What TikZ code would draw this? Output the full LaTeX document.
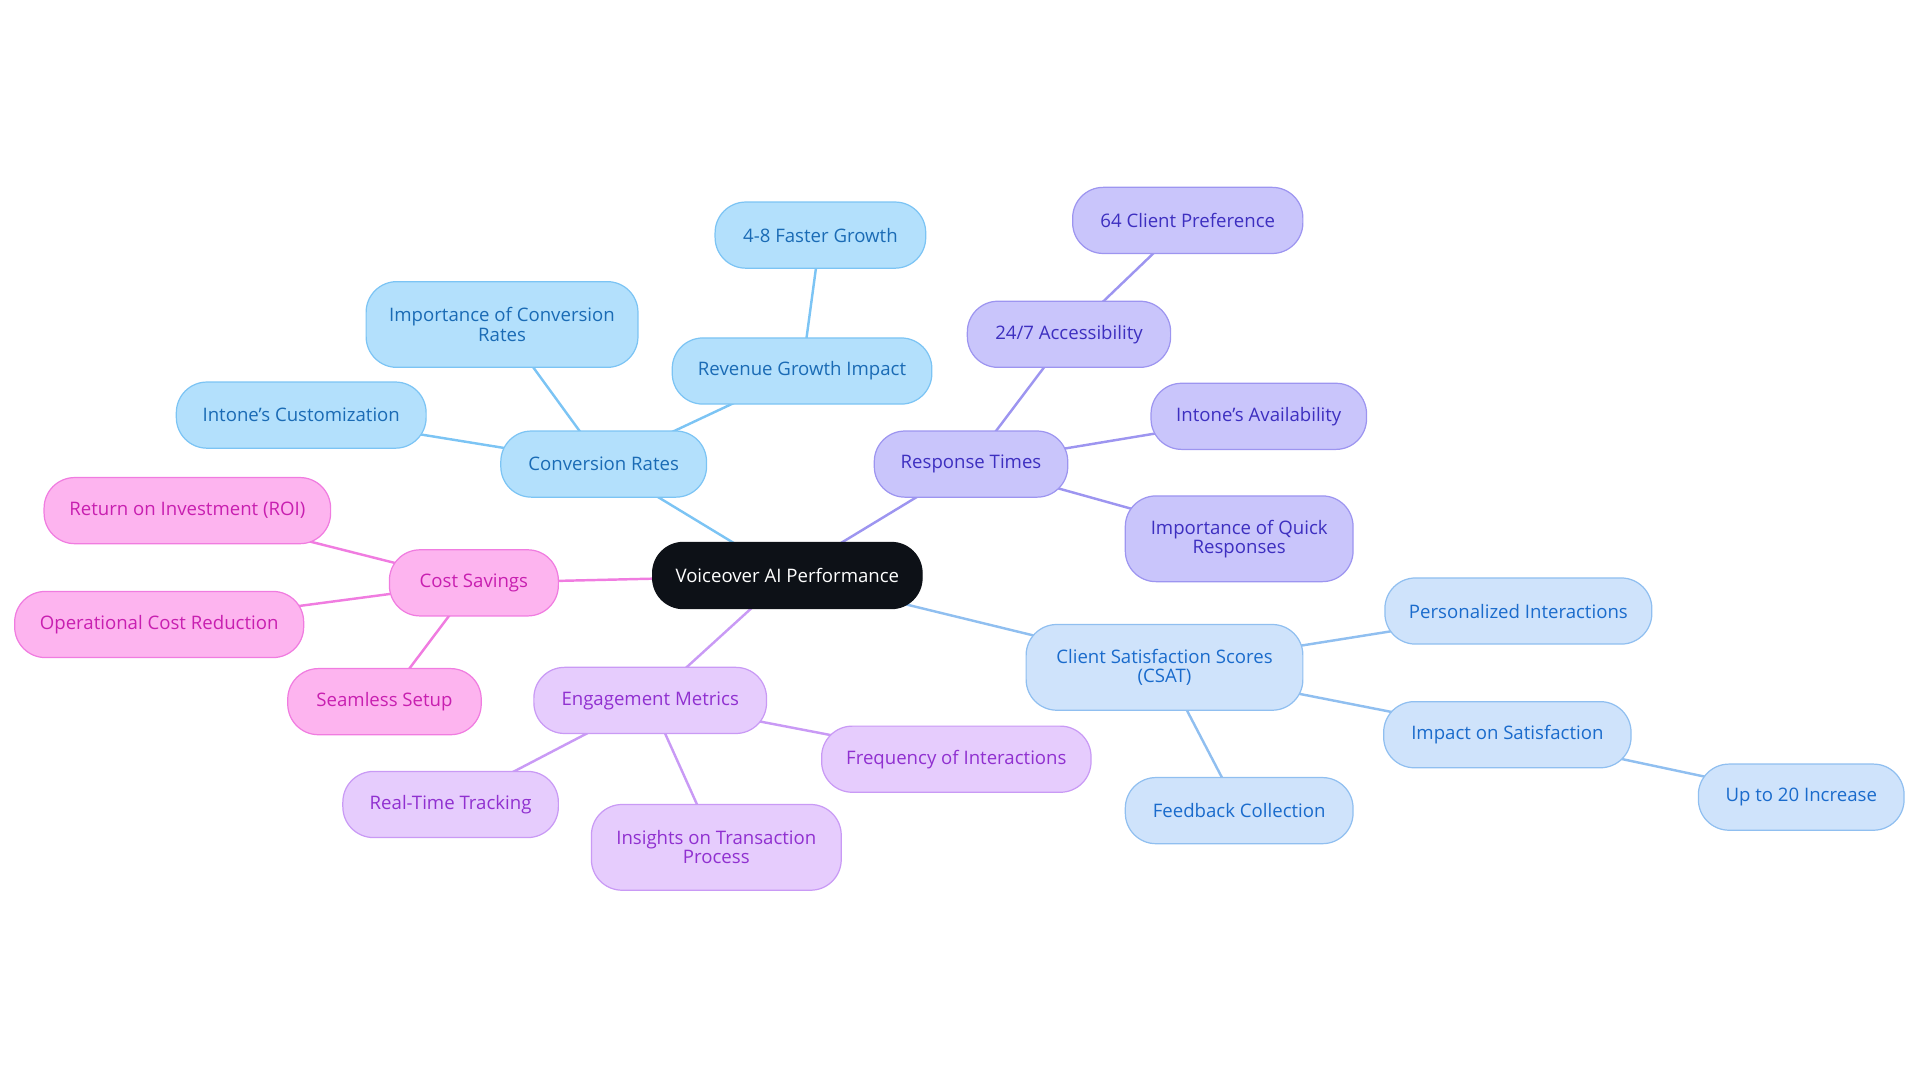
\documentclass[tikz,border=0pt]{standalone}
\usepackage{fontspec}
\setmainfont{Open Sans}
\usetikzlibrary{backgrounds}
\definecolor{bF}{HTML}{B3E0FC}\definecolor{bD}{HTML}{7CC4F4}\definecolor{bT}{HTML}{1A6BB5}
\definecolor{pF}{HTML}{C9C5FB}\definecolor{pD}{HTML}{9D95F0}\definecolor{pT}{HTML}{3D2FC0}
\definecolor{cF}{HTML}{CFE3FB}\definecolor{cD}{HTML}{90BFF0}\definecolor{cT}{HTML}{1A6BCC}
\definecolor{mF}{HTML}{FDB4EF}\definecolor{mD}{HTML}{F07CE0}\definecolor{mT}{HTML}{C81FB0}
\definecolor{eF}{HTML}{E6CCFD}\definecolor{eD}{HTML}{C99AF5}\definecolor{eT}{HTML}{9030D0}
\definecolor{rootF}{HTML}{0D1117}
\tikzset{
 box/.style={rounded corners=12.5pt,minimum height=27pt,align=center,font=\fontsize{7.6}{7.8}\selectfont,inner sep=2pt,line width=0.5pt},
 tall/.style={minimum height=35pt},
 gb/.style={box,fill=bF,draw=bD,text=bT},
 gp/.style={box,fill=pF,draw=pD,text=pT},
 gc/.style={box,fill=cF,draw=cD,text=cT},
 gm/.style={box,fill=mF,draw=mD,text=mT},
 ge/.style={box,fill=eF,draw=eD,text=eT},
 eb/.style={draw=bD,line width=1pt},
 ep/.style={draw=pD,line width=1pt},
 ec/.style={draw=cD,line width=1pt},
 em/.style={draw=mD,line width=1pt},
 ee/.style={draw=eD,line width=1pt},
}
\begin{document}
\begin{tikzpicture}[x=0.5pt,y=-0.5pt]
\useasboundingbox (0,0) rectangle (1568,884);
\node[box,fill=rootF,draw=rootF,text=white,minimum width=110pt] (root) at (643,470) {Voiceover AI Performance};
\node[gb,minimum width=84pt] (conv) at (493,379) {Conversion Rates};
\node[gb,tall,minimum width=111pt] (impc) at (410,265) {Importance of Conversion\\Rates};
\node[gb,minimum width=106pt] (rev) at (655,303) {Revenue Growth Impact};
\node[gb,minimum width=86pt] (fast) at (670,192) {4-8 Faster Growth};
\node[gb,minimum width=102pt] (cust) at (246,339) {Intone's Customization};
\node[gp,minimum width=79pt] (resp) at (793,379) {Response Times};
\node[gp,minimum width=83pt] (acc) at (873,273) {24/7 Accessibility};
\node[gp,minimum width=94pt] (pref) at (970,180) {64 Client Preference};
\node[gp,minimum width=88pt] (avail) at (1028,340) {Intone's Availability};
\node[gp,tall,minimum width=93pt] (quick) at (1012,440) {Importance of Quick\\Responses};
\node[gc,tall,minimum width=113pt] (csat) at (951,545) {Client Satisfaction Scores\\(CSAT)};
\node[gc,minimum width=109pt] (pers) at (1240,499) {Personalized Interactions};
\node[gc,minimum width=101pt] (imps) at (1231,600) {Impact on Satisfaction};
\node[gc,minimum width=84pt] (upto) at (1471,651) {Up to 20 Increase};
\node[gc,minimum width=93pt] (feed) at (1012,662) {Feedback Collection};
\node[gm,minimum width=69pt] (cost) at (387,476) {Cost Savings};
\node[gm,minimum width=117pt] (roi) at (153,417) {Return on Investment (ROI)};
\node[gm,minimum width=118pt] (oper) at (130,510) {Operational Cost Reduction};
\node[gm,minimum width=79pt] (seam) at (314,573) {Seamless Setup};
\node[ge,minimum width=95pt] (eng) at (531,572) {Engagement Metrics};
\node[ge,minimum width=88pt] (real) at (368,657) {Real-Time Tracking};
\node[ge,tall,minimum width=102pt] (ins) at (585,692) {Insights on Transaction\\Process};
\node[ge,minimum width=110pt] (freq) at (781,620) {Frequency of Interactions};
\begin{scope}[on background layer]
\draw[eb] (root.center) -- (conv.center);
\draw[eb] (conv.center) -- (impc.center);
\draw[eb] (conv.center) -- (rev.center);
\draw[eb] (rev.center) -- (fast.center);
\draw[eb] (conv.center) -- (cust.center);
\draw[ep] (root.center) -- (resp.center);
\draw[ep] (resp.center) -- (acc.center);
\draw[ep] (acc.center) -- (pref.center);
\draw[ep] (resp.center) -- (avail.center);
\draw[ep] (resp.center) -- (quick.center);
\draw[ec] (root.center) -- (csat.center);
\draw[ec] (csat.center) -- (pers.center);
\draw[ec] (csat.center) -- (imps.center);
\draw[ec] (imps.center) -- (upto.center);
\draw[ec] (csat.center) -- (feed.center);
\draw[em] (root.center) -- (cost.center);
\draw[em] (cost.center) -- (roi.center);
\draw[em] (cost.center) -- (oper.center);
\draw[em] (cost.center) -- (seam.center);
\draw[ee] (root.center) -- (eng.center);
\draw[ee] (eng.center) -- (real.center);
\draw[ee] (eng.center) -- (ins.center);
\draw[ee] (eng.center) -- (freq.center);
\end{scope}
\end{tikzpicture}
\end{document}
